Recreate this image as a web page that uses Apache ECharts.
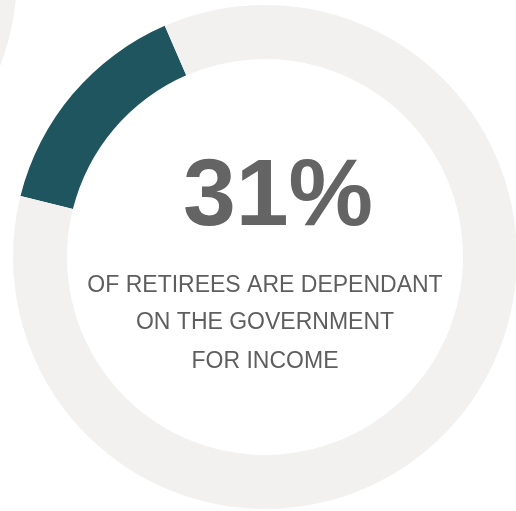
<!DOCTYPE html>
<html>
<head>
<meta charset="utf-8">
<script src="https://cdn.jsdelivr.net/npm/echarts@6/dist/echarts.min.js"></script>
<style>html,body{margin:0;padding:0;background:#fff;}#c{width:516px;height:511px;}</style>
</head>
<body>
<div id="c"></div>
<script>
// Data
var segmentNames = ['Dependant on government', 'Other'];
var segmentValues = [14.6, 85.4];
var neighbourValues = [100];
var headline = '31%';
var captionLines = ['OF RETIREES ARE DEPENDANT', 'ON THE GOVERNMENT', 'FOR INCOME'];

var chart = echarts.init(document.getElementById('c'), null, {renderer: 'canvas'});
var font = '"Liberation Sans", Arial, sans-serif';
var captionY = [285.5, 323, 361.5];
var graphics = [{
  type: 'text', x: 278, y: 199,
  style: {text: headline, font: 'bold 95px ' + font, fill: '#646464', textAlign: 'center', textVerticalAlign: 'middle'}
}];
captionLines.forEach(function (t, i) {
  graphics.push({
    type: 'text', x: 265, y: captionY[i],
    style: {text: t, font: '23px ' + font, fill: '#5e5e5e', textAlign: 'center', textVerticalAlign: 'middle'}
  });
});
chart.setOption({
  animation: false,
  backgroundColor: '#ffffff',
  series: [{
    type: 'pie', center: [-235, -25], radius: [198, 252], silent: true,
    label: {show: false}, labelLine: {show: false},
    data: neighbourValues.map(function (v) { return {value: v, itemStyle: {color: '#f2f1ef'}}; })
  }, {
    type: 'pie', center: [265, 257], radius: [198, 252], silent: true,
    startAngle: 166, clockwise: true,
    label: {show: false}, labelLine: {show: false},
    data: segmentValues.map(function (v, i) {
      return {name: segmentNames[i], value: v, itemStyle: {color: i === 0 ? '#1f555f' : '#f2f1ef'}};
    })
  }],
  graphic: graphics
});
</script>
</body>
</html>
